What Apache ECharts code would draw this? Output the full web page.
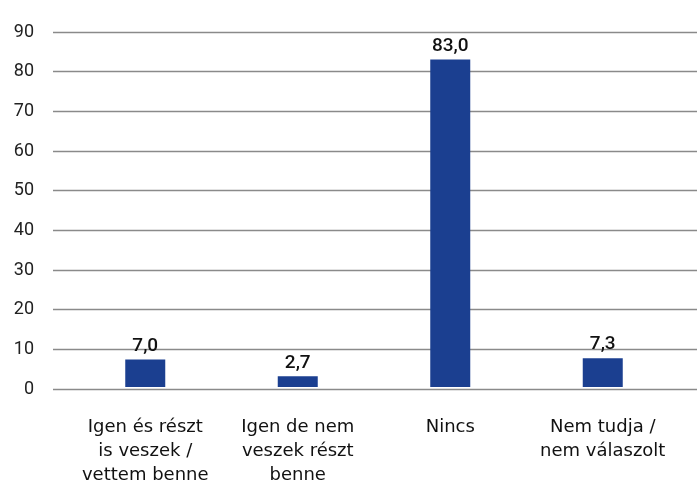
<!DOCTYPE html>
<html><head><meta charset="utf-8">
<script src="https://cdn.jsdelivr.net/npm/echarts@6/dist/echarts.min.js"></script>
<style>html,body{margin:0;padding:0;background:#fff}#c{width:697px;height:487px}</style>
</head><body><div id="c"></div>
<script>
const categories = ['Igen és részt\nis veszek /\nvettem benne', 'Igen de nem\nveszek részt\nbenne', 'Nincs', 'Nem tudja /\nnem válaszolt'];
const values = [7.0, 2.7, 83.0, 7.3];
const yTicks = [0, 90, 10];
const font = 'Roboto, "DejaVu Sans", sans-serif';
const catFont = '"DejaVu Sans", sans-serif';
const chart = echarts.init(document.getElementById('c'));
chart.setOption({
  animation: false,
  grid: [
    {left: 53, right: 0, top: 32, bottom: 98},
    {left: 69, right: 18, top: 32, bottom: 98}
  ],
  xAxis: [
    {gridIndex: 0, type: 'category', data: categories, show: false},
    {gridIndex: 1, type: 'category', data: categories,
     axisLine: {show: false}, axisTick: {show: false},
     axisLabel: {color: '#111', fontSize: 18, fontFamily: catFont, lineHeight: 24, margin: 28, interval: 0}}
  ],
  yAxis: [
    {gridIndex: 0, type: 'value', min: yTicks[0], max: yTicks[1], interval: yTicks[2],
     axisLine: {show: false}, axisTick: {show: false},
     splitLine: {lineStyle: {color: '#8a8a8a', width: 1.3}},
     axisLabel: {color: '#222', fontSize: 18, fontFamily: font, margin: 19}},
    {gridIndex: 1, type: 'value', min: yTicks[0], max: yTicks[1], interval: yTicks[2], show: false}
  ],
  series: [{
    type: 'bar', xAxisIndex: 1, yAxisIndex: 1, data: values, barWidth: 40,
    itemStyle: {color: '#1b3f90'},
    label: {show: true, position: 'top', distance: 4, color: '#111', fontSize: 19, fontWeight: 500, fontFamily: font,
      formatter: p => p.value.toFixed(1).replace('.', ',')}
  }]
});
</script></body></html>
